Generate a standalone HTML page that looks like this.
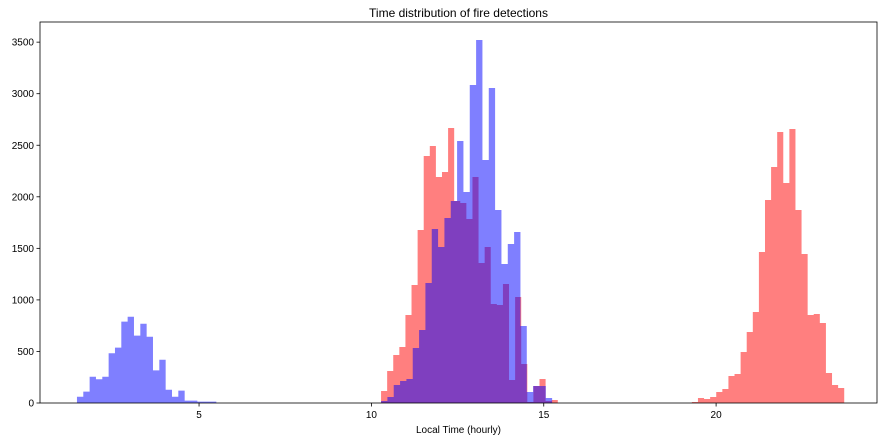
<!DOCTYPE html>
<html><head><meta charset="utf-8"><style>
body{margin:0;background:#fff;}
svg{display:block;font-family:"Liberation Sans",sans-serif;}
</style></head><body>
<svg id="chart" width="887" height="441"></svg>
<script>
const redStart = 10.28;
const redBinWidth = 0.1768;
const redCounts = [116,310,466,543,854,1145,1678,2396,2493,2192,2240,2667,1959,1940,1785,2192,1358,1513,960,950,1154,223,1028,378,10,165,233,20,29,
0,0,0,0,0,0,0,0,0,0,0,0,0,0,0,0,0,0,0,0,0,0,
10,48,39,58,107,136,262,281,495,689,883,1465,1969,2289,2628,2134,2658,1872,1445,854,863,776,291,175,145];
const blueStart = 1.458;
const blueBinWidth = 0.1838;
const blueCounts = [61,110,255,230,255,482,537,789,837,653,769,643,317,420,129,61,120,23,23,13,13,13,
0,0,0,0,0,0,0,0,0,0,0,0,0,0,0,0,0,0,0,0,0,0,0,0,0,0,
19,58,175,213,233,533,708,1164,1688,1513,1794,1959,2541,2047,3084,3521,2357,3055,1872,1348,1542,1659,747,107,165,165,48];
const xTicks = [5,10,15,20];
const yTicks = [0,500,1000,1500,2000,2500,3000,3500];

const svg = document.getElementById('chart');
const NS = 'http://www.w3.org/2000/svg';
const L=40,R=877,T=22,B=403;
const xs = h => 26.7 + 34.47*h;
const ys = v => B - v*0.1031;
function mk(tag, attrs, text){const e=document.createElementNS(NS,tag);for(const k in attrs)e.setAttribute(k,attrs[k]);if(text!==undefined)e.textContent=text;svg.appendChild(e);return e;}

function drawSeries(start,w,counts,color,name){
  let d='';
  counts.forEach((c,i)=>{
    if(c<=0)return;
    const x0=xs(start+i*w), x1=xs(start+(i+1)*w);
    d+='M'+x0+' '+B+'V'+ys(c)+'H'+x1+'V'+B+'Z';
  });
  const p=mk('path',{d:d,fill:color});
  
  
}
drawSeries(redStart,redBinWidth,redCounts,'rgba(255,0,0,0.5)','red');
drawSeries(blueStart,blueBinWidth,blueCounts,'rgba(0,0,255,0.5)','blue');

const frame=mk('rect',{x:L,y:T,width:R-L,height:B-T,fill:'none',stroke:'#000','stroke-width':0.8});



xTicks.forEach(t=>{
  const x=xs(t);
  const tk=mk('line',{x1:x,x2:x,y1:B,y2:B+3.5,stroke:'#000','stroke-width':0.8});
  
  
  const lb=mk('text',{x:x,y:B+15,'text-anchor':'middle','font-size':10},String(t));
  
  
});
yTicks.forEach(t=>{
  const y=ys(t);
  const tk=mk('line',{x1:L-3.5,x2:L,y1:y,y2:y,stroke:'#000','stroke-width':0.8});
  
  
  const lb=mk('text',{x:L-6,y:y+3.5,'text-anchor':'end','font-size':10},String(t));
  
  
});
const xt=mk('text',{x:(L+R)/2,y:433,'text-anchor':'middle','font-size':10},'Local Time (hourly)');


const tt=mk('text',{x:(L+R)/2,y:17,'text-anchor':'middle','font-size':12},'Time distribution of fire detections');


</script>
</body></html>
